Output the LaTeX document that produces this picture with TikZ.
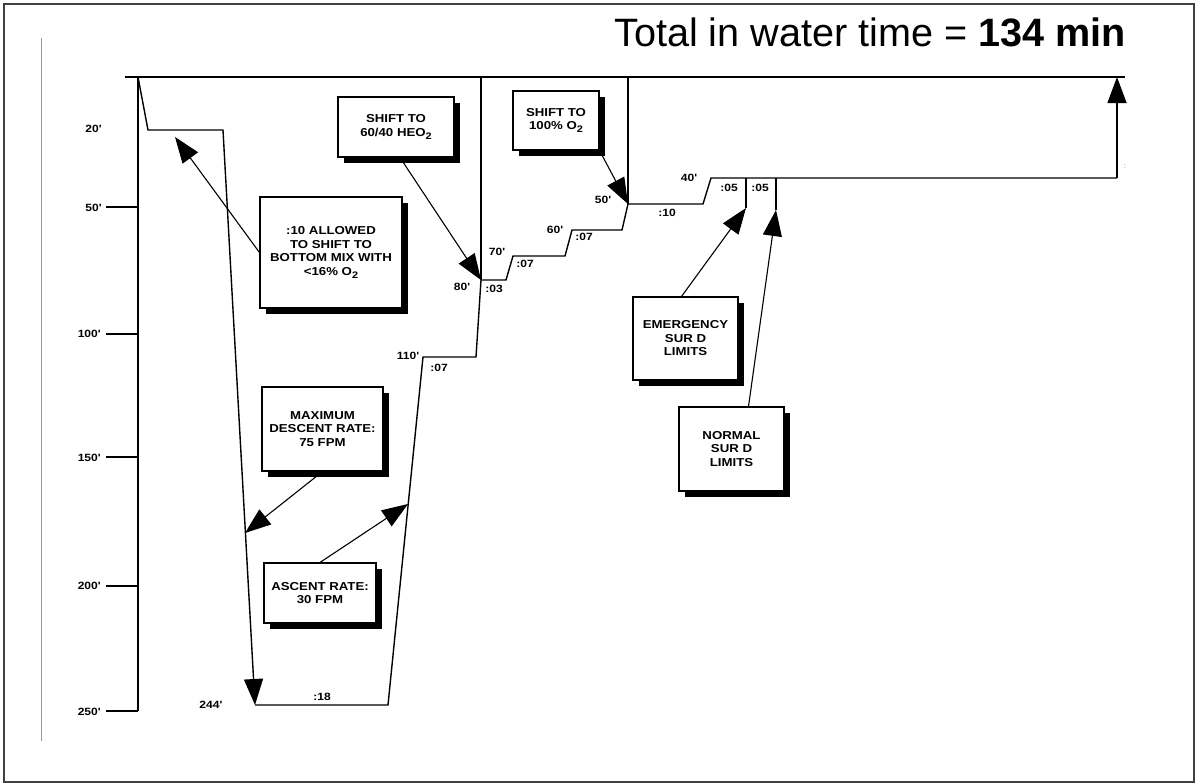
\documentclass[tikz,border=0pt]{standalone}
\usepackage{fontspec}
\setmainfont{Liberation Sans}
\newfontfamily\boxfont[FakeStretch=1.15]{Liberation Sans}
\newcommand{\lowtwo}{\raisebox{-0.45ex}{\fontsize{9.5}{9.5}\selectfont 2}}
\usetikzlibrary{arrows.meta,shadows}
\begin{document}
\begin{tikzpicture}[x=1pt,y=-1pt,
  box/.style={draw=black, line width=1.1pt, fill=white, inner sep=0pt, align=center,
    font=\boxfont\bfseries\fontsize{11.5}{13.5}\selectfont,
    drop shadow={shadow xshift=6pt, shadow yshift=-6pt, fill=black, opacity=1}},
  lbl/.style={font=\boxfont\bfseries\fontsize{10.5}{12}\selectfont, inner sep=0pt},
  prof/.style={line width=1.4pt},
  tip/.style={-{Triangle[length=26pt,width=19pt]}},
  arr/.style={line width=1.1pt, tip}]
\useasboundingbox (0,0) rectangle (1197,784);
% frame
\draw[line width=2pt, black!75] (4,4) rectangle (1194,782);
\draw[black!40, line width=0.8pt] (41,38) -- (41,741);
% title
\node[anchor=base west, inner sep=0pt, font=\fontsize{39.6}{44}\selectfont] (title) at (614,47) {Total in water time = \textbf{134 min}};
% surface line and axis
\coordinate (sl) at (125,77); \coordinate (sr) at (1125,77);
\draw[line width=1.3pt] (sl) -- (sr);
\coordinate (ax0) at (138,77); \coordinate (ax1) at (138,711);
\draw[prof] (ax0) -- (ax1);
\foreach \yy in {207,334,457,586,711} \draw[line width=1.3pt] (106,\yy) -- (138,\yy);
\node[lbl, anchor=east] (d20) at (102,129) {20'};
\node[lbl, anchor=east] (d50) at (102,208) {50'};
\node[lbl, anchor=east] (d100) at (101,334) {100'};
\node[lbl, anchor=east] (d150) at (101,458) {150'};
\node[lbl, anchor=east] (d200) at (101,586) {200'};
\node[lbl, anchor=east] (d250) at (101,712) {250'};
% profile points
\coordinate (p0) at (138,77);
\coordinate (p1) at (148,130);
\coordinate (p2) at (223,130);
\coordinate (p3) at (255,705);
\coordinate (p4) at (388,705);
\coordinate (p5) at (423,357);
\coordinate (p6) at (476,357);
\coordinate (p7) at (481,280);
\coordinate (p8) at (506,280);
\coordinate (p9) at (513,256);
\coordinate (p10) at (565,256);
\coordinate (p11) at (572,230);
\coordinate (p12) at (622,230);
\coordinate (p13) at (628,204);
\coordinate (p14) at (703,204);
\coordinate (p15) at (711,178);
\coordinate (p16) at (1117,178);
\coordinate (p17) at (1117,77);
\draw[prof, tip] (p0) -- (p1) -- (p2) -- (p3);
\draw[prof] (p3) -- (p4) -- (p5) -- (p6) -- (p7) -- (p8) -- (p9) -- (p10) -- (p11) -- (p12) -- (p13) -- (p14) -- (p15) -- (p16);
\draw[prof, tip] (p16) -- (p17);
% gas switch verticals
\draw[prof] (481,77) -- (p7);
\draw[prof] (628,77) -- (p13);
% surd limit lines
\coordinate (em0) at (746,178); \coordinate (em1) at (746,208);
\coordinate (no0) at (776,178); \coordinate (no1) at (776,210);
\draw[prof] (em0) -- (em1);
\draw[prof] (no0) -- (no1);
% stop labels
\node[lbl] (l244) at (211,705) {244'};
\node[lbl] (l18) at (322,697) {:18};
\node[lbl] (l110) at (408,356) {110'};
\node[lbl] (l07a) at (439,368) {:07};
\node[lbl] (l80) at (462,287) {80'};
\node[lbl] (l03) at (494,289) {:03};
\node[lbl] (l70) at (497,252) {70'};
\node[lbl] (l07b) at (525,264) {:07};
\node[lbl] (l60) at (555,230) {60'};
\node[lbl] (l07c) at (584,237) {:07};
\node[lbl] (l50) at (603,200) {50'};
\node[lbl] (l10) at (667,213) {:10};
\node[lbl] (l40) at (689,178) {40'};
\node[lbl] (l05a) at (729,188) {:05};
\node[lbl] (l05b) at (760,188) {:05};
\node[lbl, text=black!50, font=\boxfont\fontsize{7}{8}\selectfont] (lsm) at (1125,167) {:};
% boxes
\node[box, minimum width=142pt, minimum height=111pt] (allowed) at (331,252.5)
  {:10 ALLOWED\\TO SHIFT TO\\BOTTOM MIX WITH\\<16\% O\lowtwo};
\node[box, minimum width=116pt, minimum height=60pt] (heo) at (396,127)
  {SHIFT TO\\60/40 HEO\lowtwo};
\node[box, minimum width=86pt, minimum height=59pt] (oxy) at (556,120.5)
  {SHIFT TO\\100\% O\lowtwo};
\node[box, minimum width=121pt, minimum height=84pt] (maxd) at (322.5,429)
  {MAXIMUM\\DESCENT RATE:\\75 FPM};
\node[box, minimum width=112pt, minimum height=60pt] (asc) at (320,593)
  {ASCENT RATE:\\30 FPM};
\node[box, minimum width=105pt, minimum height=83pt] (emerg) at (685.5,338.5)
  {EMERGENCY\\SUR D\\LIMITS};
\node[box, minimum width=105pt, minimum height=84pt] (normal) at (731.5,449)
  {NORMAL\\SUR D\\LIMITS};
% callout arrows
\coordinate (tA) at (175,137);
\coordinate (tM) at (245,533);
\coordinate (tS) at (408,504);
\draw[arr] (allowed.west) -- (tA);
\draw[arr] ([xshift=4pt]heo.south) -- (p7);
\draw[arr] (oxy.south east) -- (p13);
\draw[arr] (maxd.south) -- (tM);
\draw[arr] (asc.north) -- (tS);
\draw[arr] ([xshift=-4pt]emerg.north) -- (em1);
\draw[arr] ([xshift=17pt]normal.north) -- (no1);
\end{tikzpicture}
\end{document}
